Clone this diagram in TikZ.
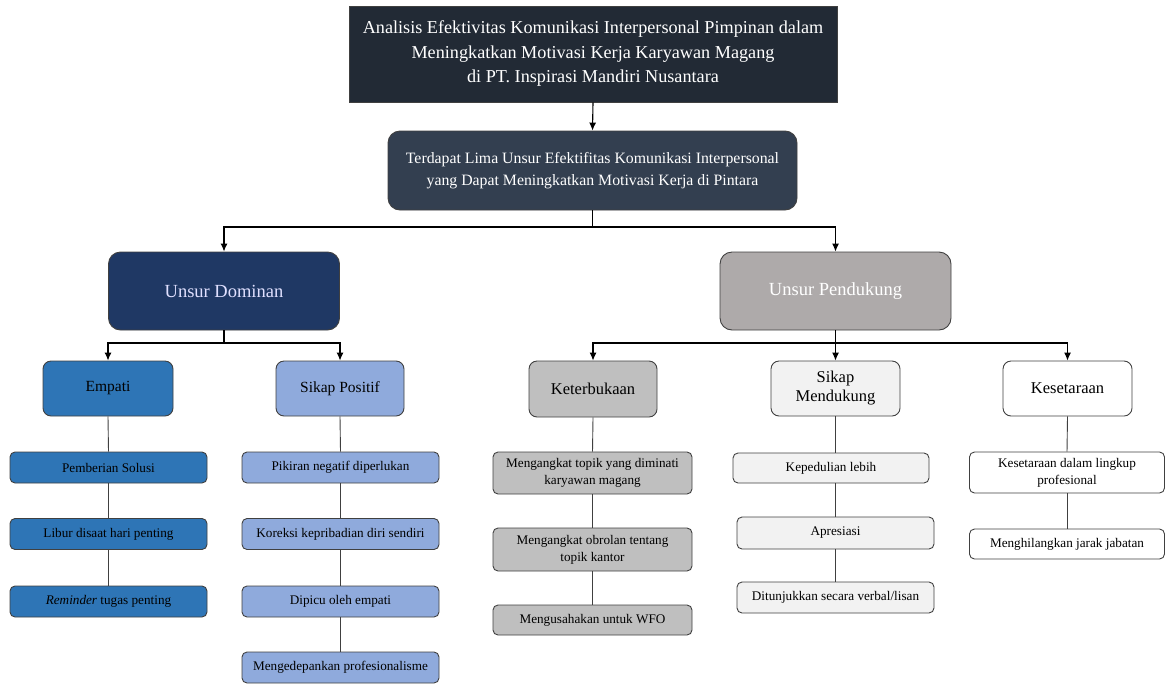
\documentclass[tikz,border=0pt]{standalone}
\usepackage{fontspec}
\setmainfont{Liberation Serif}
\usetikzlibrary{arrows.meta}

\definecolor{titlebg}{HTML}{222A35}
\definecolor{subbg}{HTML}{333F50}
\definecolor{dombg}{HTML}{1F3864}
\definecolor{empbg}{HTML}{2E75B6}
\definecolor{posbg}{HTML}{8FAADC}
\definecolor{penbg}{HTML}{AEAAAA}
\definecolor{terbg}{HTML}{BFBFBF}
\definecolor{dukbg}{HTML}{F2F2F2}
\definecolor{edge}{HTML}{404040}

\tikzset{
  box/.style={draw=edge, line width=0.9pt, align=center, inner sep=0pt, text=black},
  bigbox/.style={box, rounded corners=12pt, minimum width=231pt, minimum height=78pt,
    text=white, font=\rmfamily\fontsize{18.5}{22}\selectfont},
  midbox/.style={box, rounded corners=8pt, minimum width=129pt, minimum height=55pt,
    font=\rmfamily\fontsize{16.5}{19}\selectfont},
  leaf/.style={box, rounded corners=5pt, minimum width=197pt, minimum height=31pt,
    font=\rmfamily\fontsize{13.2}{17}\selectfont},
  arr/.style={line width=1.1pt, -{Latex[length=8pt,width=7pt]}},
  link/.style={draw=edge, line width=0.9pt}
}

\begin{document}
\begin{tikzpicture}[x=1pt,y=-1pt]
  \useasboundingbox (0,0) rectangle (1166,683);

  % top of the tree
  \node[box, fill=titlebg, text=white, minimum width=488pt, minimum height=96pt,
    font=\rmfamily\fontsize{18.2}{24.5}\selectfont] (title) at (593,54)
    {Analisis Efektivitas Komunikasi Interpersonal Pimpinan dalam\\
     Meningkatkan Motivasi Kerja Karyawan Magang\\
     di PT. Inspirasi Mandiri Nusantara};
  \node[box, fill=subbg, text=white, rounded corners=12pt, minimum width=409pt,
    minimum height=79pt, font=\rmfamily\fontsize{15.8}{22}\selectfont] (sub) at (592.5,170.5)
    {Terdapat Lima Unsur Efektifitas Komunikasi Interpersonal\\
     yang Dapat Meningkatkan Motivasi Kerja di Pintara};
  \draw[arr] (title.south) -- (sub.north);

  \node[bigbox, fill=dombg, text={white!88!blue}] (dom) at (224,291) {Unsur Dominan};
  \node[bigbox, fill=penbg] (pen) at (835.5,291) {Unsur Pendukung};
  \coordinate (j0) at (592.5,227);
  \draw[line width=1.1pt] (sub.south) -- (j0);
  \draw[arr] (j0) -| (dom.north);
  \draw[arr] (j0) -| (pen.north);

  % unsur dominan
  \node[midbox, fill=empbg, minimum width=130pt, font=\rmfamily\fontsize{15.5}{18}\selectfont] (emp) at (108,388.5) {Empati};
  \node[midbox, fill=posbg, minimum width=128pt, font=\rmfamily\fontsize{15.5}{18}\selectfont] (pos) at (340,388.5) {Sikap Positif};
  \coordinate (j1) at (224,343);
  \draw[line width=1.1pt] (dom.south) -- (j1);
  \draw[arr] (j1) -| (emp.north);
  \draw[arr] (j1) -| (pos.north);

  \node[leaf, fill=empbg] (emp1) at (108.5,467.5) {Pemberian Solusi};
  \node[leaf, fill=empbg] (emp2) at (108.5,534) {Libur disaat hari penting};
  \node[leaf, fill=empbg] (emp3) at (108.5,601.5) {\textit{Reminder} tugas penting};
  \draw[link] (emp.south) -- (emp1.north);
  \draw[link] (emp1.south) -- (emp2.north);
  \draw[link] (emp2.south) -- (emp3.north);

  \node[leaf, fill=posbg] (pos1) at (340.5,467.5) {Pikiran negatif diperlukan};
  \node[leaf, fill=posbg] (pos2) at (340.5,534) {Koreksi kepribadian diri sendiri};
  \node[leaf, fill=posbg] (pos3) at (340.5,601.5) {Dipicu oleh empati};
  \node[leaf, fill=posbg] (pos4) at (340.5,667.5) {Mengedepankan profesionalisme};
  \draw[link] (pos.south) -- (pos1.north);
  \draw[link] (pos1.south) -- (pos2.north);
  \draw[link] (pos2.south) -- (pos3.north);
  \draw[link] (pos3.south) -- (pos4.north);

  % unsur pendukung
  \node[midbox, fill=terbg, minimum width=128pt, minimum height=56pt] (ter) at (593,389) {Keterbukaan};
  \node[midbox, fill=dukbg] (duk) at (835.5,388.5) {Sikap\\Mendukung};
  \node[midbox, fill=white] (set) at (1067.5,388.5) {Kesetaraan};
  \coordinate (j2) at (835.5,343);
  \draw[line width=1.1pt] (pen.south) -- (j2);
  \draw[arr] (j2) -| (ter.north);
  \draw[arr] (j2) -- (duk.north);
  \draw[arr] (j2) -| (set.north);

  \node[leaf, fill=terbg, minimum width=199pt, minimum height=42pt] (ter1) at (592.5,473)
    {Mengangkat topik yang diminati\\karyawan magang};
  \node[leaf, fill=terbg, minimum width=199pt, minimum height=43pt] (ter2) at (592.5,549.5)
    {Mengangkat obrolan tentang\\topik kantor};
  \node[leaf, fill=terbg, minimum width=199pt, minimum height=30pt] (ter3) at (592.5,620)
    {Mengusahakan untuk WFO};
  \draw[link] (ter.south) -- (ter1.north);
  \draw[link] (ter1.south) -- (ter2.north);
  \draw[link] (ter2.south) -- (ter3.north);

  \node[leaf, fill=dukbg, minimum width=196pt, minimum height=30pt] (duk1) at (831,468) {Kepedulian lebih};
  \node[leaf, fill=dukbg, minimum height=32pt] (duk2) at (835.5,533) {Apresiasi};
  \node[leaf, fill=dukbg] (duk3) at (835.5,597.5) {Ditunjukkan secara verbal/lisan};
  \draw[link] (duk.south) -- (duk.south |- duk1.north);
  \draw[link] (duk.south |- duk1.south) -- (duk2.north);
  \draw[link] (duk2.south) -- (duk3.north);

  \node[leaf, fill=white, minimum width=195pt, minimum height=41pt] (set1) at (1067,472.5)
    {Kesetaraan dalam lingkup\\profesional};
  \node[leaf, fill=white, minimum width=195pt, minimum height=30pt] (set2) at (1067,544)
    {Menghilangkan jarak jabatan};
  \draw[link] (set.south) -- (set1.north);
  \draw[link] (set1.south) -- (set2.north);
\end{tikzpicture}
\end{document}
